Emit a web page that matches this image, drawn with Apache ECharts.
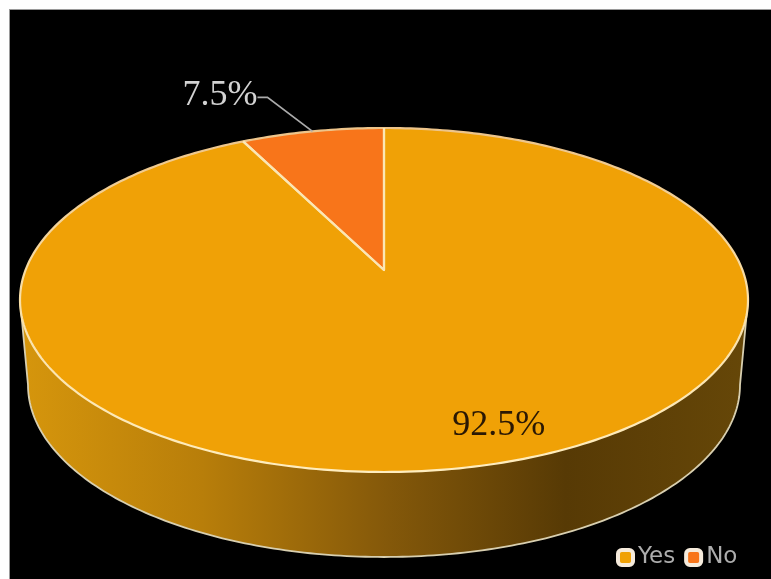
<!DOCTYPE html>
<html>
<head>
<meta charset="utf-8">
<style>
  html, body { margin: 0; padding: 0; background: #fff; width: 771px; height: 579px; overflow: hidden; }
  #panel { position: absolute; left: 9px; top: 9px; width: 762px; height: 570px; background: #000;
           border-left: 1px solid #9a9a9a; border-top: 1px solid #9a9a9a; box-sizing: border-box; }
  #chart { position: absolute; left: 0; top: 0; width: 771px; height: 579px; }
</style>
<script src="https://cdn.jsdelivr.net/npm/echarts@6/dist/echarts.min.js"></script>
</head>
<body>
<div id="panel"></div>
<div id="chart"></div>
<script>
const categories = ['Yes', 'No'];
const values = [92.5, 7.5];
const sliceColors = ['#F0A106', '#F8751A'];

// Tilted disc: upper rim, lower rim and the vanishing shift of the pie's centre.
const rim = { cx: 384, cy: 300, rx: 364, ry: 172 };
const base = { cx: 384, cy: 385, rx: 356, ry: 172 };
const centreShift = 30 / 172;

const total = values.reduce((a, b) => a + b, 0);

// Projects a share of the circle (0..1, clockwise from 12 o'clock) onto the tilted rim.
function project(share) {
  const t = share * Math.PI * 2;
  const s = Math.sin(t), c = Math.cos(t), k = centreShift;
  const d = 1 + k * c;
  const px = s * Math.sqrt(1 - k * k) / d;
  const py = (c + k) / d;
  return [rim.cx + rim.rx * px, rim.cy - rim.ry * py];
}

const apex = [rim.cx, rim.cy - rim.ry * centreShift];

function arcPoints(from, to) {
  const pts = [];
  const steps = Math.max(8, Math.ceil((to - from) * 360));
  for (let i = 0; i <= steps; i++) pts.push(project(from + (to - from) * i / steps));
  return pts;
}

// Half of an ellipse, left to right through its front.
function frontArc(e) {
  const pts = [];
  for (let a = 180; a >= 0; a -= 1) {
    const r = a * Math.PI / 180;
    pts.push([e.cx + e.rx * Math.cos(r), e.cy + e.ry * Math.sin(r)]);
  }
  return pts;
}

function wallElements() {
  const top = frontArc(rim), bottom = frontArc(base);
  const hull = top.concat(bottom.slice().reverse());
  return [
    {
      type: 'polygon', shape: { points: hull },
      style: {
        fill: new echarts.graphic.LinearGradient(0, 0, 1, 0, [
          { offset: 0, color: '#D6960C' },
          { offset: 0.25, color: '#B87E0A' },
          { offset: 0.5, color: '#85590A' },
          { offset: 0.75, color: '#573A05' },
          { offset: 1, color: '#664708' }
        ]),
        stroke: null
      }
    },
    {
      type: 'polyline',
      shape: { points: [top[0]].concat(bottom, [top[top.length - 1]]) },
      style: { fill: null, stroke: '#D8CFB0', lineWidth: 1.8 }
    }
  ];
}

function renderSlice(index) {
  return function (params, api) {
    const value = api.value(0);
    const before = values.slice(0, index).reduce((a, b) => a + b, 0);
    const from = before / total, to = (before + value) / total;
    const mid = project((from + to) / 2);
    const arc = arcPoints(from, to);
    const children = [];
    if (index === 0) children.push(...wallElements());
    children.push({
      type: 'polygon', shape: { points: [apex].concat(arc) },
      style: { fill: sliceColors[index], stroke: null }
    });
    // The rim brightens toward the front of the disc.
    children.push({
      type: 'polyline', z2: 5, shape: { points: arc },
      style: {
        fill: null, lineWidth: 2.2,
        stroke: new echarts.graphic.LinearGradient(0, rim.cy - rim.ry, 0, rim.cy + rim.ry, [
          { offset: 0, color: '#EDC48A' },
          { offset: 0.5, color: '#F8DFA8' },
          { offset: 1, color: '#FFEDBE' }
        ], true)
      }
    });
    children.push({
      type: 'polyline', z2: 6, shape: { points: [arc[0], apex, arc[arc.length - 1]] },
      style: { fill: null, stroke: '#FBE6B4', lineWidth: 2.2, lineJoin: 'round' }
    });
    if (index === 0) {
      children.push({
        type: 'text', z2: 10,
        style: {
          text: value + '%', x: mid[0] + 14, y: mid[1] - 40,
          font: '36px "Liberation Serif"', fill: '#2A1804', align: 'center', verticalAlign: 'middle'
        }
      });
    } else {
      // Leader runs from the middle of the slice's outer edge up to its label.
      const elbow = [mid[0] - 45, mid[1] - 34];
      children.push({
        type: 'polyline', z2: 10,
        shape: { points: [mid, elbow, [elbow[0] - 10, elbow[1]]] },
        style: { fill: null, stroke: '#ABABAB', lineWidth: 1.8 }
      });
      children.push({
        type: 'text', z2: 10,
        style: {
          text: value + '%', x: elbow[0] - 10, y: elbow[1] - 2,
          font: '36px "Liberation Serif"', fill: '#D2D2D2', align: 'right', verticalAlign: 'middle'
        }
      });
    }
    return { type: 'group', children };
  };
}

const chart = echarts.init(document.getElementById('chart'), null, { renderer: 'canvas' });
chart.setOption({
  backgroundColor: 'transparent',
  animation: false,
  legend: {
    data: categories,
    left: 616, top: 546,
    selectedMode: false,
    itemWidth: 15, itemHeight: 15, itemGap: 9,
    icon: 'roundRect',
    padding: 0,
    itemStyle: { borderColor: '#F6EBDC', borderWidth: 4 },
    textStyle: { color: '#ADADAD', fontFamily: 'DejaVu Sans', fontSize: 23 }
  },
  series: categories.map((name, i) => ({
    type: 'custom',
    name,
    coordinateSystem: 'none',
    itemStyle: { color: sliceColors[i] },
    renderItem: renderSlice(i),
    data: [{ name, value: values[i] }]
  }))
});
</script>
</body>
</html>
